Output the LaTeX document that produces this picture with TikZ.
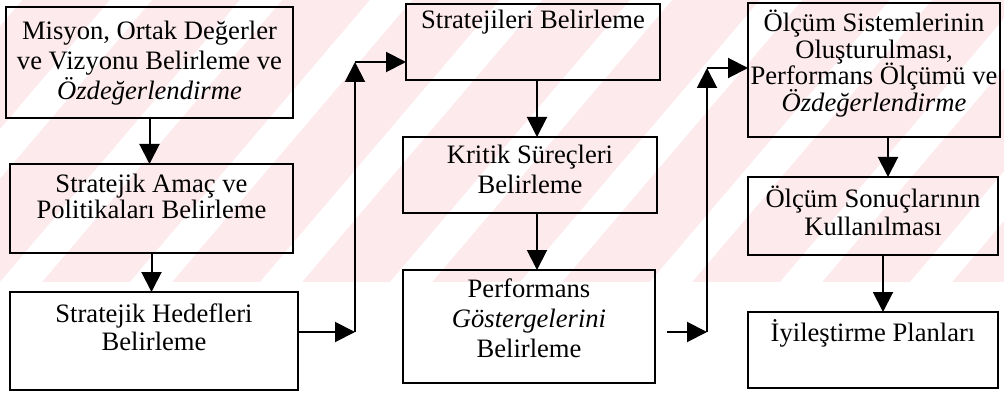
\documentclass[tikz,border=0pt]{standalone}
\usepackage{fontspec}
\setmainfont{Liberation Serif}
\usetikzlibrary{arrows.meta}
\definecolor{wmpink}{RGB}{253,234,237}
\begin{document}
\begin{tikzpicture}[x=1pt,y=-1pt,
  box/.style={draw=black, line width=2pt, inner sep=0pt, outer sep=0pt},
  txt/.style={anchor=north, inner sep=0pt, align=center,
    font={\fontsize{26.6}{#1}\selectfont\lineskiplimit=-50pt}},
  txt/.default=28,
  arr/.style={line width=2pt, -{Triangle[length=20pt,width=20pt]}}]
\useasboundingbox (0,0) rectangle (1004,393);

% faint striped band behind the upper part of the chart
\begin{scope}
  \clip (0,0) rectangle (1004,282);
  \fill[wmpink] (0,0) rectangle (1004,282);
  \foreach \k in {-3,...,9} {
    \fill[white] (\k*130,282) -- (\k*130+42,282) -- (\k*130+282,0) -- (\k*130+240,0) -- cycle;
  }
\end{scope}

% boxes
\node[box, minimum width=287pt, minimum height=111pt] (b1) at (149.5,62.5) {};
\node[box, minimum width=283pt, minimum height=89pt]  (b2) at (151.5,208.5) {};
\node[box, minimum width=288pt, minimum height=98pt]  (b3) at (154,341) {};
\node[box, minimum width=254pt, minimum height=76pt]  (b4) at (533,42) {};
\node[box, minimum width=254pt, minimum height=76pt]  (b5) at (530,175) {};
\node[box, minimum width=252pt, minimum height=113pt] (b6) at (529,326.5) {};
\node[box, minimum width=252pt, minimum height=134pt] (b7) at (874,70) {};
\node[box, minimum width=250pt, minimum height=78pt]  (b8) at (873,216) {};
\node[box, minimum width=250pt, minimum height=76pt]  (b9) at (873,350) {};

% box texts
\node[txt=30] (t1) at ([yshift=-11pt]b1.north)
  {\strut Misyon, Ortak Değerler\\ ve Vizyonu Belirleme ve\\ \textit{Özdeğerlendirme}};
\node[txt=26] (t2) at ([yshift=-10pt]b2.north)
  {\strut Stratejik Amaç ve\\ Politikaları Belirleme};
\node[txt=28] (t3) at ([yshift=-11pt]b3.north)
  {\strut Stratejik Hedefleri\\ Belirleme};
\node[txt=28] (t4) at ([yshift=-5pt]b4.north)
  {\strut Stratejileri Belirleme};
\node[txt=30] (t5) at ([yshift=-5.5pt]b5.north)
  {\strut Kritik Süreçleri\\ Belirleme};
\node[txt=30] (t6) at ([yshift=-6.5pt]b6.north)
  {\strut Performans\\ \textit{Göstergelerini}\\ Belirleme};
\node[txt=26.5] (t7) at ([yshift=-7pt]b7.north)
  {\strut Ölçüm Sistemlerinin\\ Oluşturulması,\\ Performans Ölçümü ve\\ \textit{Özdeğerlendirme}};
\node[txt=28] (t8) at ([yshift=-9pt]b8.north)
  {\strut Ölçüm Sonuçlarının\\ Kullanılması};
\node[txt=28] (t9) at ([yshift=-7pt]b9.north)
  {\strut İyileştirme Planları};

% vertical flow inside each column
\draw[arr] (b1.south) -- (b1.south |- b2.north);
\draw[arr] (b2.south) -- (b2.south |- b3.north);
\draw[arr] ([xshift=4pt]b4.south) -- ([xshift=4pt]b4.south |- b5.north);
\draw[arr] ([xshift=7pt]b5.south) -- ([xshift=7pt]b5.south |- b6.north);
\draw[arr] ([xshift=14pt]b7.south) -- ([xshift=14pt]b7.south |- b8.north);
\draw[arr] ([xshift=10pt]b8.south) -- ([xshift=10pt]b8.south |- b9.north);

% link from the first column to the second
\coordinate (c1) at (355,332);
\coordinate (c2) at (355,62);
\draw[arr] (b3.east |- c1) -- (c1);
\draw[arr] (c1) -- (c2);
\draw[arr] (c2) -- (c2 -| b4.west);

% link from the second column to the third
\coordinate (c3) at (667,332);
\coordinate (c4) at (707,332);
\coordinate (c5) at (707,68);
\draw[arr] (c3) -- (c4);
\draw[arr] (c4) -- (c5);
\draw[arr] (c5) -- (c5 -| b7.west);
\end{tikzpicture}
\end{document}
